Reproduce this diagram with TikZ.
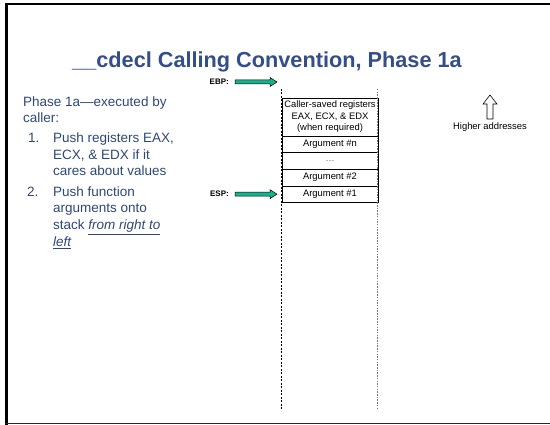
\documentclass[tikz,border=0pt]{standalone}
\usepackage{fontspec}
\setmainfont{Liberation Sans}
\usetikzlibrary{calc}

\definecolor{titleblue}{RGB}{52,78,138}
\definecolor{bodyblue}{RGB}{46,72,122}
\definecolor{ptrgreen}{RGB}{22,178,138}
\definecolor{dashgray}{RGB}{120,120,120}

\tikzset{
  slidetitle/.style={font=\fontsize{21.7}{24}\selectfont\bfseries, text=titleblue, inner sep=0pt, anchor=base},
  bodyline/.style={font=\fontsize{13.5}{16}\selectfont, text=bodyblue, inner sep=0pt, anchor=base west},
  cellbox/.style={draw=black, line width=0.7pt, fill=white},
  celltext/.style={font=\fontsize{9.4}{11.5}\selectfont, inner sep=0pt, align=center},
  reglabel/.style={font=\fontsize{8}{9}\selectfont\bfseries, inner sep=0pt, anchor=east},
  pointer/.style={draw=black, line width=0.5pt, fill=ptrgreen},
  frameline/.style={draw=black},
}

\begin{document}
\begin{tikzpicture}[x=1pt,y=-1pt]
  \useasboundingbox (0,0) rectangle (550,425);
  \fill[white] (0,0) rectangle (550,425);

  % slide frame
  \draw[line width=2.4pt] (6.5,3) -- (6.5,425);
  \draw[line width=2.2pt] (5,4.3) -- (550,4.3);
  \draw[line width=1.4pt, black!85] (5,423.5) -- (550,423.5);

  % title
  \node[slidetitle] (title) at (267,68) {\_\_cdecl Calling Convention, Phase 1a};

  % description on the left
  \node[bodyline] (l1) at (23,107) {Phase 1a—executed by};
  \node[bodyline] (l2) at (23,123) {caller:};
  \node[bodyline] (n1) at (28,143) {1.};
  \node[bodyline] (l3) at (53,143) {Push registers EAX,};
  \node[bodyline] (l4) at (53,160) {ECX, \& EDX if it};
  \node[bodyline] (l5) at (53,176) {cares about values};
  \node[bodyline] (n2) at (27,197) {2.};
  \node[bodyline] (l6) at (53,197) {Push function};
  \node[bodyline] (l7) at (53,213) {arguments onto};
  \node[bodyline] (l8) at (53,230) {stack \underline{\itshape from right to}};
  \node[bodyline] (l9) at (53,247) {\underline{\itshape left}};

  % stack cells
  \draw[cellbox] (282,98) rectangle (378,136);
  \draw[cellbox] (282,136) rectangle (378,152.7);
  \draw[cellbox] (282,152.7) rectangle (378,169.3);
  \draw[cellbox] (282,169.3) rectangle (378,186);
  \draw[cellbox] (282,186) rectangle (378,202.3);
  \node[celltext] (saved) at (330,117) {Caller-saved registers\\EAX, ECX, \& EDX\\(when required)};
  \node[celltext] (argn) at (330,144.35) {Argument \#n};
  \node[celltext, text=black!60] (dots) at (330,161) {…};
  \node[celltext] (arg2) at (330,177.65) {Argument \#2};
  \node[celltext] (arg1) at (330,194.15) {Argument \#1};

  % stack boundaries
  \coordinate (lt) at (281.5,89);
  \coordinate (lb) at (281.5,410);
  \coordinate (rt) at (377.5,89);
  \coordinate (rb) at (377.5,410);
  \draw[line width=0.8pt, dash pattern=on 2pt off 1.5pt] (lt) -- (lb);
  \draw[line width=1.2pt, dashgray, dash pattern=on 1.5pt off 1.2pt] (rt) -- (rb);

  % register pointers
  \node[reglabel] (ebp) at (229,82) {EBP:};
  \node[reglabel] (esp) at (229,194.15) {ESP:};
  \draw[pointer] (235,80) -- (270,80) -- (270,77.5) -- (277,82) -- (270,86.5) -- (270,84) -- (235,84) -- cycle;
  \draw[pointer] (235,192.15) -- (270,192.15) -- (270,189.65) -- (277,194.15) -- (270,198.65) -- (270,196.15) -- (235,196.15) -- cycle;

  % direction of higher addresses
  \draw[line width=0.6pt, fill=white] (487,119) -- (487,104) -- (483,104) -- (490,95) -- (497,104) -- (493,104) -- (493,119) -- cycle;
  \node[celltext, anchor=base] (higher) at (490,130) {Higher addresses};
\end{tikzpicture}
\end{document}
